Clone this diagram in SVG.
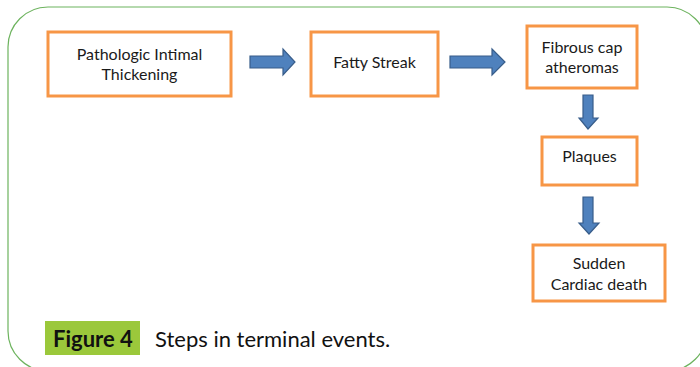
<svg xmlns="http://www.w3.org/2000/svg" width="700" height="367" viewBox="0 0 700 367">
<style>
.box{fill:#fff;stroke:#F79646;stroke-width:3}
.lbl{font-family:Lato,"Open Sans","Liberation Sans",sans-serif;font-size:16px;fill:#1a1a1a;text-anchor:middle}
.arr{fill:#4F81BD;stroke:#385D8A;stroke-width:1.2;stroke-linejoin:miter}
.cap{font-family:Lato,"Open Sans","Liberation Sans",sans-serif;font-size:22px;fill:#111}
</style>
<rect width="700" height="367" fill="#fff"/>
<rect x="8" y="7" width="699" height="364" rx="40" ry="40" fill="none" stroke="#6DB35E" stroke-width="1.2"/>
<g id="n1"><rect class="box" x="48" y="32" width="183" height="64"/><text class="lbl" x="139.5" y="60">Pathologic Intimal</text><text class="lbl" x="139.5" y="80">Thickening</text></g>
<g id="n2"><rect class="box" x="311" y="32" width="127" height="64"/><text class="lbl" x="374.5" y="68">Fatty Streak</text></g>
<g id="n3"><rect class="box" x="527" y="26" width="110" height="62"/><text class="lbl" x="582" y="53">Fibrous cap</text><text class="lbl" x="582" y="73">atheromas</text></g>
<g id="n4"><rect class="box" x="542" y="137" width="95" height="48"/><text class="lbl" x="589.5" y="162">Plaques</text></g>
<g id="n5"><rect class="box" x="533" y="245" width="132" height="56"/><text class="lbl" x="599" y="269">Sudden</text><text class="lbl" x="599" y="290">Cardiac death</text></g>
<g id="connectors">
<polygon class="arr" points="250,56 283,56 283,49 295,62 283,75 283,68 250,68"/>
<polygon class="arr" points="450,56 492,56 492,49 505,62 492,75 492,68 450,68"/>
<polygon class="arr" points="583,95 593,95 593,118 598,118 588,129 579,118 583,118"/>
<polygon class="arr" points="583,197 593,197 593,223 599,223 589,234 579,223 583,223"/>
</g>
<g id="caption">
<rect x="45" y="321" width="95" height="34" fill="#9BC83B"/>
<text class="cap" x="53" y="347" font-weight="bold">Figure 4</text>
<text class="cap" x="155" y="347">Steps in terminal events.</text>
</g>
</svg>
